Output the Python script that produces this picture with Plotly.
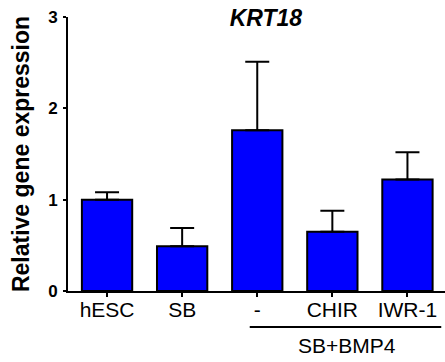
import plotly.graph_objects as go

categories = ["hESC", "SB", "-", "CHIR", "IWR-1"]
values = [1.0, 0.49, 1.76, 0.65, 1.22]
errors = [0.08, 0.20, 0.75, 0.23, 0.30]
group_label = "SB+BMP4"
title_text = "<b><i>KRT18</i></b>"
y_title = "<b>Relative gene expression</b>"
y_ticks = [0, 1, 2, 3]

FONT = "Arial, Liberation Sans, sans-serif"
W, H = 445, 362

fig = go.Figure()
fig.add_trace(go.Bar(
    x=list(range(len(categories))),
    y=values,
    marker=dict(color="#0000FF", line=dict(color="black", width=2)),
    error_y=dict(type="data", array=errors, arrayminus=[0]*len(errors),
                 symmetric=False, color="black", thickness=2, width=12),
    width=0.67,
))

fig.update_layout(
    width=W, height=H,
    margin=dict(l=68, r=0, t=17, b=71),
    plot_bgcolor="white", paper_bgcolor="white",
    showlegend=False,
    font=dict(family=FONT, color="black"),
    title=dict(text=title_text, x=0.525, xref="paper", xanchor="center",
               y=1 - 18/H, yanchor="middle", yref="container",
               font=dict(size=23, family=FONT, color="black")),
    xaxis=dict(
        range=[-0.52, 4.5],
        tickmode="array", tickvals=list(range(len(categories))), ticktext=categories,
        ticks="outside", ticklen=4, tickwidth=2, tickcolor="black",
        showline=True, linecolor="black", linewidth=2,
        showgrid=False, zeroline=False,
        tickfont=dict(size=21, family=FONT, color="black"),
        ticklabelstandoff=-5,
    ),
    yaxis=dict(
        range=[0, 3],
        tickmode="array", tickvals=y_ticks, ticktext=[f"<b>{v}</b>" for v in y_ticks],
        ticks="outside", ticklen=3, tickwidth=2, tickcolor="black",
        showline=True, linecolor="black", linewidth=2,
        showgrid=False, zeroline=False,
        tickfont=dict(size=17, family=FONT, color="black"),
        ticklabelstandoff=2, ticklabeloverflow="allow",
        title=dict(text=y_title, font=dict(size=23, family=FONT, color="black"), standoff=12),
    ),
)

fig.add_shape(type="line", xref="x", yref="paper", x0=1.9, x1=4.45, y0=-0.131, y1=-0.131,
              line=dict(color="black", width=2))
fig.add_annotation(text=group_label, xref="x", yref="paper", x=3.2, y=-0.2,
                   showarrow=False, xanchor="center", yanchor="middle",
                   font=dict(size=21, family=FONT, color="black"))

fig.write_html("out.html", config={"displayModeBar": False},
               post_script="document.body.style.margin='0';")
